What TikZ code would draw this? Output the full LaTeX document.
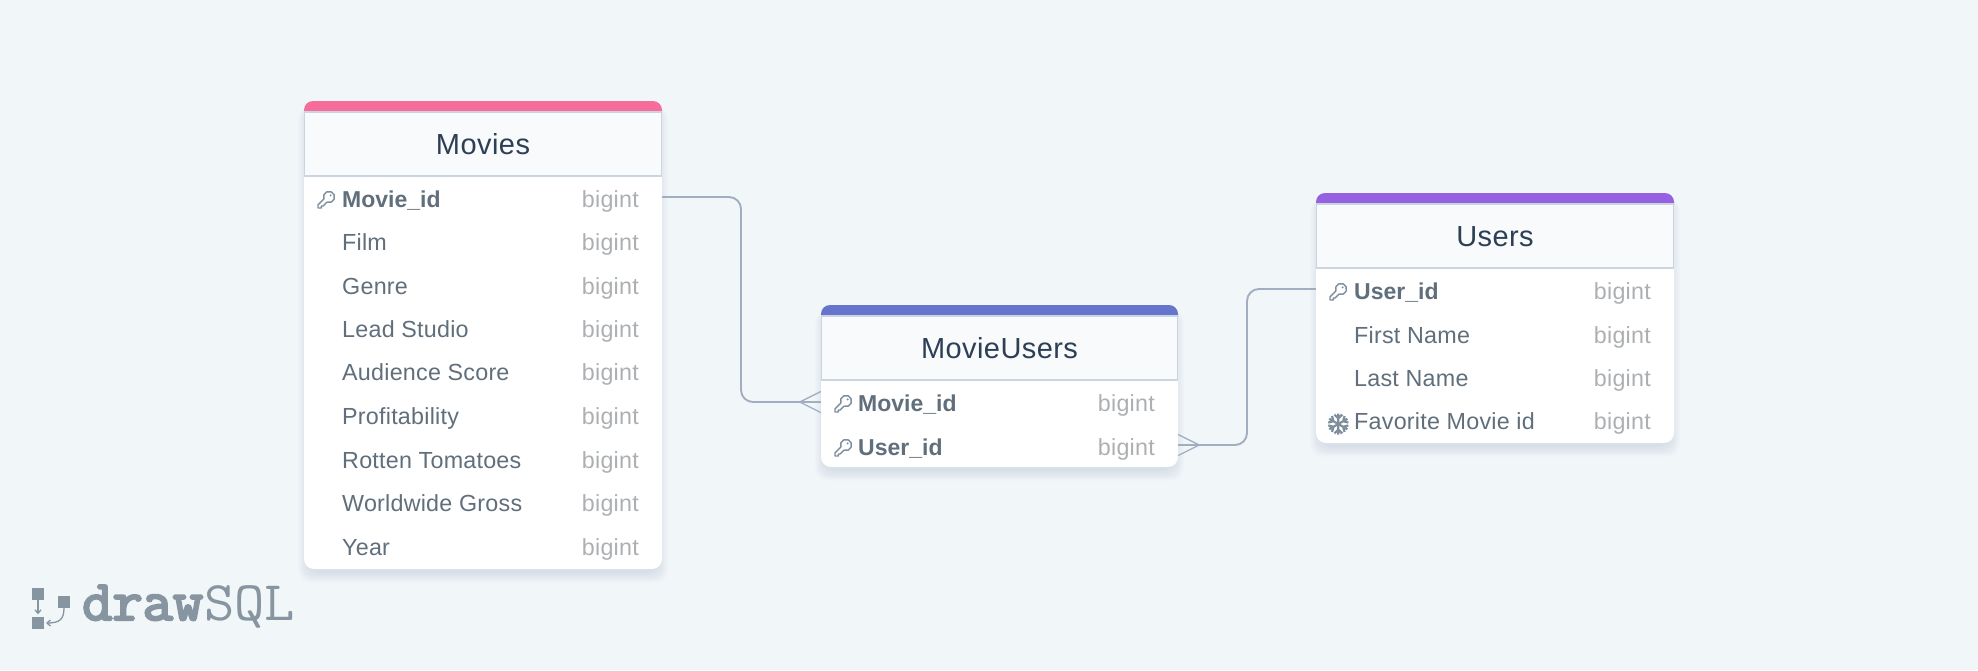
\documentclass[tikz,border=0pt]{standalone}
\usepackage{fontspec}
\usetikzlibrary{arrows.meta,calc}
\setmainfont{Liberation Sans}
\newfontfamily\bodyf[LetterSpace=1]{Liberation Sans}
\newfontfamily\titlef[LetterSpace=1.5]{Liberation Sans}
\newfontfamily\logobold[FakeBold=4]{Latin Modern Mono}
\newfontfamily\logolight{Latin Modern Mono}
\definecolor{bgc}{HTML}{F1F6F9}
\definecolor{pinkc}{HTML}{F66D9B}
\definecolor{indigoc}{HTML}{6574CD}
\definecolor{purplec}{HTML}{9561E2}
\definecolor{headc}{HTML}{F8FAFC}
\definecolor{edgec}{HTML}{CBD5E0}
\definecolor{titlec}{HTML}{2D3F55}
\definecolor{fieldc}{HTML}{606F7B}
\definecolor{typec}{HTML}{ADB0B3}
\definecolor{linec}{HTML}{A0AEC0}
\definecolor{iconc}{HTML}{7F8E9D}
\definecolor{logoc}{HTML}{8795A1}
\tikzset{
  cardbox/.style={fill=white,rounded corners=10,inner sep=0,draw=none},
  headbox/.style={fill=headc,draw=edgec,line width=1.4,inner sep=0},
  titletext/.style={anchor=base,inner sep=0,text=titlec,font=\titlef\fontsize{29}{31}\selectfont},
  fieldtext/.style={anchor=base west,inner sep=0,text=fieldc,font=\bodyf\fontsize{23.3}{26}\selectfont},
  pktext/.style={fieldtext,font=\rmfamily\bfseries\fontsize{23}{26}\selectfont},
  typetext/.style={anchor=base east,inner sep=0,text=typec,font=\bodyf\fontsize{23.3}{26}\selectfont},
  rowband/.style={inner sep=0,minimum height=43},
  conn/.style={draw=linec,line width=1.9,rounded corners=12},
  crow/.style={draw=linec,line width=1.3},
  keyicon/.pic={
    \draw[iconc,line width=1.4,line join=round]
      (0.92,2.2) arc[start angle=111.8,end angle=-201.8,radius=5.6]
      -- (-8,4.9) -- (-8,8) -- (-4.6,8) -- (-4.6,6) -- (-2.8,6) -- cycle;
    \fill[iconc] (4.6,-4.6) circle[radius=1.1];
  },
  flakeicon/.pic={
    \foreach \a in {30,90,150,210,270,330}{
      \draw[iconc,line width=2.2,rotate=\a] (0,0) -- (10.5,0)
        (9.4,-3.8) -- (5.6,0) -- (9.4,3.8);
    }
  }
}
\newcommand{\softshadow}[4]{%
  \foreach \i in {1,...,9}{
    \fill[titlec,opacity=0.010,rounded corners=12]
      (#1-1.2*\i+5,#2+6) rectangle (#3+1.2*\i-5,#4+1.3*\i+2);
  }
}
\begin{document}
\begin{tikzpicture}[x=1pt,y=-1pt]
\useasboundingbox (0,0) rectangle (1978,670);
\fill[bgc] (0,0) rectangle (1978,670);

% shadows
\softshadow{304}{101}{662}{569}
\softshadow{821}{305}{1178}{467}
\softshadow{1316}{193}{1674}{443}

% ---------- Movies
\node[cardbox,minimum width=358,minimum height=468] (movies) at (483,335) {};
\fill[pinkc] (304,113) {[rounded corners=9] -- (304,101) -- (662,101)} -- (662,113) -- cycle;
\node[headbox,minimum width=357,minimum height=64] (moviesHead) at (483,144) {};
\node[titletext] (moviesTitle) at (483,154) {Movies};
\node[rowband,minimum width=358] (mRow) at (483,197) {};
\pic at (326,200) {keyicon};
\node[pktext] (f1) at (342,207) {Movie\_id};
\node[fieldtext] (f2) at (342,250) {Film};
\node[fieldtext] (f3) at (342,294) {Genre};
\node[fieldtext] (f4) at (342,337) {Lead Studio};
\node[fieldtext] (f5) at (342,380) {Audience Score};
\node[fieldtext] (f6) at (342,424.5) {Profitability};
\node[fieldtext] (f7) at (342,468.5) {Rotten Tomatoes};
\node[fieldtext] (f8) at (342,511.5) {Worldwide Gross};
\node[fieldtext] (f9) at (342,555) {Year};
\foreach \y [count=\n] in {207,250,294,337,380,424.5,468.5,511.5,555}
  \node[typetext] (t\n) at (639,\y) {bigint};

% ---------- MovieUsers
\node[cardbox,minimum width=357,minimum height=162] (mu) at (999.5,386) {};
\fill[indigoc] (821,317) {[rounded corners=9] -- (821,305) -- (1178,305)} -- (1178,317) -- cycle;
\node[headbox,minimum width=356,minimum height=64] (muHead) at (999.5,348) {};
\node[titletext] (muTitle) at (999.5,358) {MovieUsers};
\node[rowband,minimum width=357] (muRowA) at (999.5,402) {};
\node[rowband,minimum width=357] (muRowB) at (999.5,445) {};
\pic at (843,404) {keyicon};
\pic at (843,448) {keyicon};
\node[pktext] (g1) at (858,411) {Movie\_id};
\node[pktext] (g2) at (858,455) {User\_id};
\node[typetext] (gt1) at (1155,411) {bigint};
\node[typetext] (gt2) at (1155,455) {bigint};

% ---------- Users
\node[cardbox,minimum width=358,minimum height=250] (users) at (1495,318) {};
\fill[purplec] (1316,205) {[rounded corners=9] -- (1316,193) -- (1674,193)} -- (1674,205) -- cycle;
\node[headbox,minimum width=357,minimum height=64] (usersHead) at (1495,236) {};
\node[titletext] (usersTitle) at (1495,246) {Users};
\node[rowband,minimum width=358] (uRow) at (1495,289) {};
\pic at (1338,292) {keyicon};
\pic at (1338.3,424) {flakeicon};
\node[pktext] (h1) at (1354,299) {User\_id};
\node[fieldtext] (h2) at (1354,343) {First Name};
\node[fieldtext] (h3) at (1354,386) {Last Name};
\node[fieldtext] (h4) at (1354,429) {Favorite Movie id};
\foreach \y [count=\n] in {299,343,386,429}
  \node[typetext] (ht\n) at (1651,\y) {bigint};

% ---------- connectors
\coordinate (bendA) at (741,0);
\coordinate (bendB) at (1247,0);
\draw[conn] (mRow.east) -- (mRow.east -| bendA) -- (muRowA.west -| bendA) -- (muRowA.west);
\draw[conn] (uRow.west) -- (uRow.west -| bendB) -- (muRowB.east -| bendB) -- (muRowB.east);
\draw[crow] ($(muRowA.west)+(0,-10.5)$) -- ($(muRowA.west)+(-21,0)$) -- ($(muRowA.west)+(0,10.5)$);
\draw[crow] ($(muRowB.east)+(0,-10.5)$) -- ($(muRowB.east)+(21,0)$) -- ($(muRowB.east)+(0,10.5)$);

% ---------- logo
\node[fill=logoc,minimum size=12,inner sep=0] (lgA) at (38,593.5) {};
\node[fill=logoc,minimum size=12,inner sep=0] (lgB) at (38,622.5) {};
\node[fill=logoc,minimum size=12,inner sep=0] (lgC) at (64,601.5) {};
\draw[logoc,line width=1.3,-{Straight Barb[length=3.5,width=6]}] (lgA.south) -- ($(lgB.north)+(0,-2)$);
\draw[logoc,line width=1.3,-{Straight Barb[length=3.5,width=6]}] (lgC.south) .. controls (64,619) and (60,623) .. (46,623);
\node[anchor=base west,inner sep=0,xscale=1.03,text=logoc,font=\logobold\fontsize{57}{60}\selectfont] (lgDraw) at (82,620) {draw};
\node[anchor=base west,inner sep=0,xscale=1.05,text=logoc,font=\logolight\fontsize{56}{60}\selectfont] (lgSql) at (204,620) {SQL};
\end{tikzpicture}
\end{document}
